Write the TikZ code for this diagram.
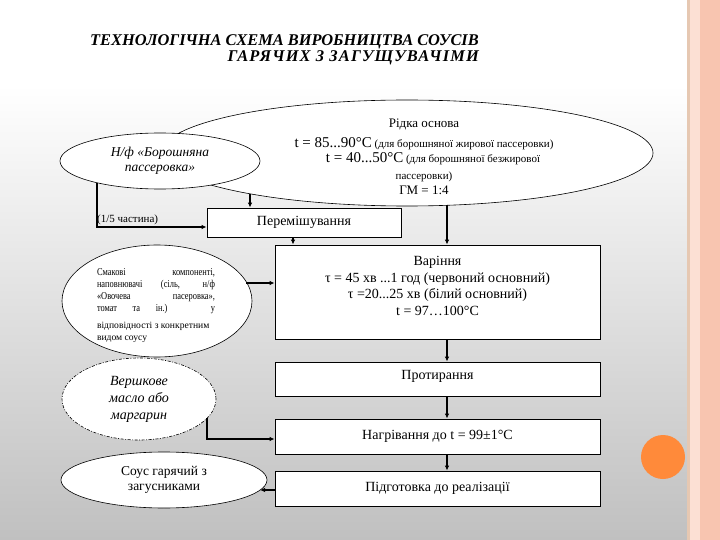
\documentclass[tikz,border=0pt]{standalone}
\usepackage{fontspec}
\setmainfont{Liberation Serif}
\newfontfamily\narrowserif[FakeStretch=0.8]{Liberation Serif}
\usetikzlibrary{shapes.geometric,arrows.meta}
\definecolor{slidegray}{RGB}{192,192,192}
\definecolor{bandsalmon}{RGB}{248,197,176}
\definecolor{bandlight}{RGB}{252,224,212}
\definecolor{bandline}{RGB}{230,200,178}
\definecolor{dotorange}{RGB}{255,138,58}
\tikzset{
  oval/.style={draw,ellipse,fill=white,inner sep=0pt,line width=0.6pt,align=center},
  stepbox/.style={draw,rectangle,fill=white,inner sep=0pt,minimum width=325pt,line width=0.8pt,
    font=\fontsize{14}{16.7}\selectfont,align=center},
  arr/.style={-{Latex[length=5pt,width=4.5pt]},line width=1.3pt},
  note/.style={inner sep=0pt,align=center}
}

\begin{document}
\begin{tikzpicture}[x=1pt,y=-1pt]
\useasboundingbox (0,0) rectangle (720,540);
% slide background
\fill[white] (0,0) rectangle (690,85);
\shade[top color=white,bottom color=slidegray] (0,85) rectangle (690,540);
\fill[bandline] (687,0) rectangle (690,540);
\fill[bandlight] (690,0) rectangle (700,540);
\fill[bandsalmon] (700,0) rectangle (720,540);
\fill[dotorange] (663,457) circle (22);

\node[note,anchor=north east,align=right,font=\fontsize{16.4}{16}\selectfont\bfseries\itshape] (title) at (479,34)
  {ТЕХНОЛОГІЧНА СХЕМА ВИРОБНИЦТВА СОУСІВ\\{\addfontfeature{LetterSpace=7}ГАРЯЧИХ З ЗАГУЩУВАЧІМИ}};

% ellipses
\node[oval,minimum width=492pt,minimum height=106pt] (osnova) at (407,153) {};
\node[oval,minimum width=200pt,minimum height=56pt,font=\itshape\fontsize{13.5}{15}\selectfont] (passer) at (160,161)
  {Н/ф «Борошняна\\пассеровка»};
\node[oval,minimum width=190pt,minimum height=112pt] (smak) at (157,301) {};
\node[oval,minimum width=154pt,minimum height=82pt,dash pattern=on 3pt off 1.5pt on 1pt off 1.5pt,
  font=\itshape\fontsize{14}{17}\selectfont] (vershk) at (139,399) {Вершкове\\масло або\\маргарин};
\node[oval,minimum width=206pt,minimum height=56pt,font=\fontsize{13.5}{15}\selectfont] (sous) at (164,480)
  {Соус гарячий з\\загусниками};

\node[note,align=left] (smaktxt) at (156,306)
  {\narrowserif\fontsize{10.5}{12.3}\selectfont\makebox[118pt][s]{Смакові компоненті,}\\
   \narrowserif\fontsize{10.5}{12.3}\selectfont\makebox[118pt][s]{наповнювачі (сіль, н/ф}\\
   \narrowserif\fontsize{10.5}{12.3}\selectfont\makebox[118pt][s]{«Овочева пасеровка»,}\\
   \narrowserif\fontsize{10.5}{12.3}\selectfont\makebox[118pt][s]{томат та ін.) у}\\[5pt]
   \fontsize{9.6}{13}\selectfont відповідності з конкретним\\
   \fontsize{9.6}{13}\selectfont видом соусу};

\node[note,font=\fontsize{11}{15}\selectfont] (osnovatxt) at (424,157) {%
  {\fontsize{13}{15}\selectfont Рідка основа}\\[5pt]
  {\fontsize{15}{15}\selectfont t = 85...90°C} (для борошняної жирової пассеровки)\\
  \hspace*{18pt}{\fontsize{15}{15}\selectfont t = 40...50°C} (для борошняної безжирової\\[2pt]
  пассеровки)\hspace*{34pt}\\
  {\fontsize{13}{15}\selectfont ГМ = 1:4}};

% process steps
\node[stepbox,minimum width=194pt,minimum height=29pt] (mix) at (304,222.5) {Перемішування};
\node[stepbox,minimum height=94pt] (var) at (437.5,292)
  {Варіння\\τ = 45 хв ...1 год (червоний основний)\\τ =20...25 хв (білий основний)\\t = 97…100°C\\[-4.7pt]\mbox{}};
\node[stepbox,minimum height=34pt] (prot) at (437.5,379) {Протирання\\[-8.7pt]\mbox{}};
\node[stepbox,minimum height=35pt] (nagr) at (437.5,436.5) {Нагрівання до t = 99±1°C};
\node[stepbox,minimum height=35pt] (pidg) at (437.5,488.5) {Підготовка до реалізації};

\node[note,anchor=south west,font=\fontsize{11}{13}\selectfont] (chast) at (97,225) {(1/5 частина)};

% connectors
\coordinate (o1) at (250,194);
\coordinate (o2) at (447,205);
\coordinate (p1) at (97,183);
\coordinate (s1) at (246,283);
\coordinate (v1) at (207,418);
\coordinate (c1) at (260,490);

\draw[arr] (o1) -- (o1 |- mix.north);
\draw[arr] (o2) -- (o2 |- var.north);
\draw[arr] (p1) |- ([yshift=-4.5pt]mix.west);
\draw[arr] ([xshift=-11pt]mix.south) -- ([xshift=-11pt]mix.south |- var.north);
\draw[arr] (s1) -- (s1 -| var.west);
\draw[arr] (v1) |- ([yshift=-2.5pt]nagr.west);
\draw[arr] (pidg.west |- c1) -- (c1);
\foreach \a/\b in {var/prot,prot/nagr,nagr/pidg}
  \draw[arr] ([xshift=9.5pt]\a.south) -- ([xshift=9.5pt]\b.north);
\end{tikzpicture}
\end{document}
